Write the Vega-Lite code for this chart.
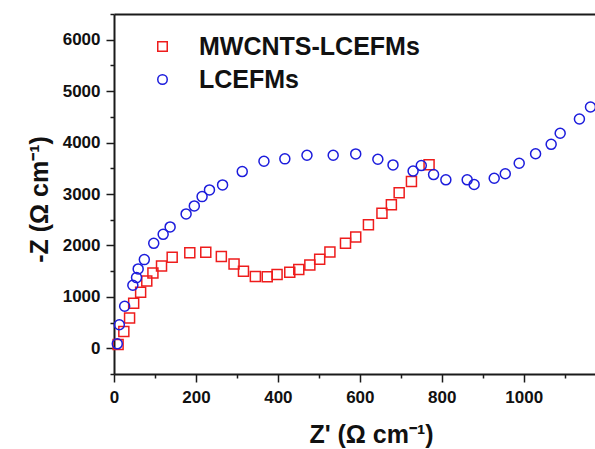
{
  "$schema": "https://vega.github.io/schema/vega-lite/v6.json",
  "width": 481,
  "height": 360,
  "autosize": "none",
  "padding": {"left": 114, "top": 14, "right": 0, "bottom": 75},
  "background": "white",
  "config": {
    "view": {"stroke": null},
    "font": "Liberation Sans",
    "axis": {
      "labelFont": "Liberation Sans",
      "labelFontWeight": "bold",
      "labelFontSize": 17,
      "labelColor": "#111111",
      "titleFont": "Liberation Sans",
      "titleFontWeight": "bold",
      "titleFontSize": 25,
      "titleColor": "#111111",
      "domainColor": "#1a1a1a",
      "domainWidth": 2,
      "tickColor": "#1a1a1a",
      "tickWidth": 1.5,
      "grid": false
    }
  },
  "data": {
    "values": [
      {"series": "MWCNTS-LCEFMs", "zr": 10, "zi": 72},
      {"series": "MWCNTS-LCEFMs", "zr": 24, "zi": 325},
      {"series": "MWCNTS-LCEFMs", "zr": 38, "zi": 591},
      {"series": "MWCNTS-LCEFMs", "zr": 48, "zi": 877},
      {"series": "MWCNTS-LCEFMs", "zr": 65, "zi": 1091},
      {"series": "MWCNTS-LCEFMs", "zr": 80, "zi": 1309},
      {"series": "MWCNTS-LCEFMs", "zr": 95, "zi": 1464},
      {"series": "MWCNTS-LCEFMs", "zr": 116, "zi": 1600},
      {"series": "MWCNTS-LCEFMs", "zr": 142, "zi": 1771},
      {"series": "MWCNTS-LCEFMs", "zr": 185, "zi": 1856},
      {"series": "MWCNTS-LCEFMs", "zr": 224, "zi": 1867},
      {"series": "MWCNTS-LCEFMs", "zr": 262, "zi": 1783},
      {"series": "MWCNTS-LCEFMs", "zr": 293, "zi": 1641},
      {"series": "MWCNTS-LCEFMs", "zr": 316, "zi": 1497},
      {"series": "MWCNTS-LCEFMs", "zr": 345, "zi": 1394},
      {"series": "MWCNTS-LCEFMs", "zr": 374, "zi": 1390},
      {"series": "MWCNTS-LCEFMs", "zr": 398, "zi": 1433},
      {"series": "MWCNTS-LCEFMs", "zr": 429, "zi": 1478},
      {"series": "MWCNTS-LCEFMs", "zr": 451, "zi": 1530},
      {"series": "MWCNTS-LCEFMs", "zr": 478, "zi": 1618},
      {"series": "MWCNTS-LCEFMs", "zr": 502, "zi": 1731},
      {"series": "MWCNTS-LCEFMs", "zr": 527, "zi": 1871},
      {"series": "MWCNTS-LCEFMs", "zr": 565, "zi": 2042},
      {"series": "MWCNTS-LCEFMs", "zr": 590, "zi": 2163},
      {"series": "MWCNTS-LCEFMs", "zr": 621, "zi": 2400},
      {"series": "MWCNTS-LCEFMs", "zr": 654, "zi": 2625},
      {"series": "MWCNTS-LCEFMs", "zr": 677, "zi": 2789},
      {"series": "MWCNTS-LCEFMs", "zr": 696, "zi": 3022},
      {"series": "MWCNTS-LCEFMs", "zr": 726, "zi": 3242},
      {"series": "MWCNTS-LCEFMs", "zr": 769, "zi": 3568},
      {"series": "LCEFMs", "zr": 8, "zi": 86},
      {"series": "LCEFMs", "zr": 13, "zi": 457},
      {"series": "LCEFMs", "zr": 26, "zi": 817},
      {"series": "LCEFMs", "zr": 46, "zi": 1225},
      {"series": "LCEFMs", "zr": 55, "zi": 1374},
      {"series": "LCEFMs", "zr": 59, "zi": 1543},
      {"series": "LCEFMs", "zr": 74, "zi": 1724},
      {"series": "LCEFMs", "zr": 97, "zi": 2041},
      {"series": "LCEFMs", "zr": 120, "zi": 2216},
      {"series": "LCEFMs", "zr": 137, "zi": 2360},
      {"series": "LCEFMs", "zr": 176, "zi": 2613},
      {"series": "LCEFMs", "zr": 196, "zi": 2768},
      {"series": "LCEFMs", "zr": 215, "zi": 2949},
      {"series": "LCEFMs", "zr": 233, "zi": 3080},
      {"series": "LCEFMs", "zr": 265, "zi": 3177},
      {"series": "LCEFMs", "zr": 313, "zi": 3436},
      {"series": "LCEFMs", "zr": 366, "zi": 3637},
      {"series": "LCEFMs", "zr": 417, "zi": 3683},
      {"series": "LCEFMs", "zr": 471, "zi": 3753},
      {"series": "LCEFMs", "zr": 535, "zi": 3753},
      {"series": "LCEFMs", "zr": 590, "zi": 3780},
      {"series": "LCEFMs", "zr": 644, "zi": 3675},
      {"series": "LCEFMs", "zr": 681, "zi": 3566},
      {"series": "LCEFMs", "zr": 730, "zi": 3446},
      {"series": "LCEFMs", "zr": 750, "zi": 3553},
      {"series": "LCEFMs", "zr": 780, "zi": 3378},
      {"series": "LCEFMs", "zr": 810, "zi": 3275},
      {"series": "LCEFMs", "zr": 862, "zi": 3275},
      {"series": "LCEFMs", "zr": 879, "zi": 3185},
      {"series": "LCEFMs", "zr": 928, "zi": 3307},
      {"series": "LCEFMs", "zr": 955, "zi": 3394},
      {"series": "LCEFMs", "zr": 989, "zi": 3598},
      {"series": "LCEFMs", "zr": 1029, "zi": 3783},
      {"series": "LCEFMs", "zr": 1067, "zi": 3966},
      {"series": "LCEFMs", "zr": 1089, "zi": 4182},
      {"series": "LCEFMs", "zr": 1136, "zi": 4458},
      {"series": "LCEFMs", "zr": 1163, "zi": 4691}
    ]
  },
  "resolve": {"axis": {"x": "independent"}},
  "layer": [
    {
      "mark": {"type": "point", "filled": false, "strokeWidth": 1.5, "size": 100, "opacity": 1},
      "encoding": {
        "x": {
          "field": "zr",
          "type": "quantitative",
          "scale": {"domain": [0, 1174], "nice": false, "zero": false},
          "axis": {
            "orient": "bottom",
            "title": "Z' (Ω cm⁻¹)",
            "titleX": 257,
            "titleY": 68,
            "titleBaseline": "alphabetic",
            "titleAlign": "center",
            "values": [0, 100, 200, 300, 400, 500, 600, 700, 800, 900, 1000, 1100],
            "labelExpr": "datum.value % 200 === 0 ? datum.label : ''",
            "format": "d",
            "tickSize": {"condition": {"test": "datum.value % 200 === 0", "value": 8}, "value": 4},
            "labelPadding": 7,
            "labelFlush": false,
            "labelOverlap": false
          }
        },
        "y": {
          "field": "zi",
          "type": "quantitative",
          "scale": {"domain": [-500, 6500], "nice": false, "zero": false},
          "axis": {
            "orient": "left",
            "title": "-Z (Ω cm⁻¹)",
            "titleX": -67,
            "titleY": 185,
            "titleAngle": -90,
            "titleBaseline": "alphabetic",
            "titleAlign": "center",
            "values": [-500, 0, 500, 1000, 1500, 2000, 2500, 3000, 3500, 4000, 4500, 5000, 5500, 6000, 6500],
            "labelExpr": "(datum.value % 1000 === 0 && datum.value >= 0) ? datum.label : ''",
            "format": "d",
            "tickSize": {"condition": {"test": "datum.value % 1000 === 0", "value": 8}, "value": 4},
            "labelPadding": 6,
            "labelFlush": false,
            "labelOverlap": false
          }
        },
        "shape": {
          "field": "series",
          "type": "nominal",
          "scale": {"domain": ["MWCNTS-LCEFMs", "LCEFMs"], "range": ["square", "circle"]}
        },
        "color": {
          "field": "series",
          "type": "nominal",
          "scale": {"domain": ["MWCNTS-LCEFMs", "LCEFMs"], "range": ["#ee1c1c", "#1c1cdc"]},
          "legend": {
            "orient": "none",
            "legendX": 36,
            "legendY": 20,
            "title": null,
            "labelFont": "Liberation Sans",
            "labelFontWeight": "bold",
            "labelFontSize": 25,
            "labelColor": "#111111",
            "symbolSize": 90,
            "symbolStrokeWidth": 1.5,
            "symbolFillColor": "transparent",
            "labelOffset": 24,
            "rowPadding": 7,
            "padding": 0,
            "labelLimit": 400
          }
        }
      }
    },
    {
      "mark": {"type": "point", "opacity": 0},
      "encoding": {
        "x": {
          "field": "zr",
          "type": "quantitative",
          "scale": {"domain": [0, 1174], "nice": false, "zero": false},
          "axis": {"orient": "top", "title": null, "labels": false, "ticks": false, "domain": true}
        }
      }
    }
  ]
}
